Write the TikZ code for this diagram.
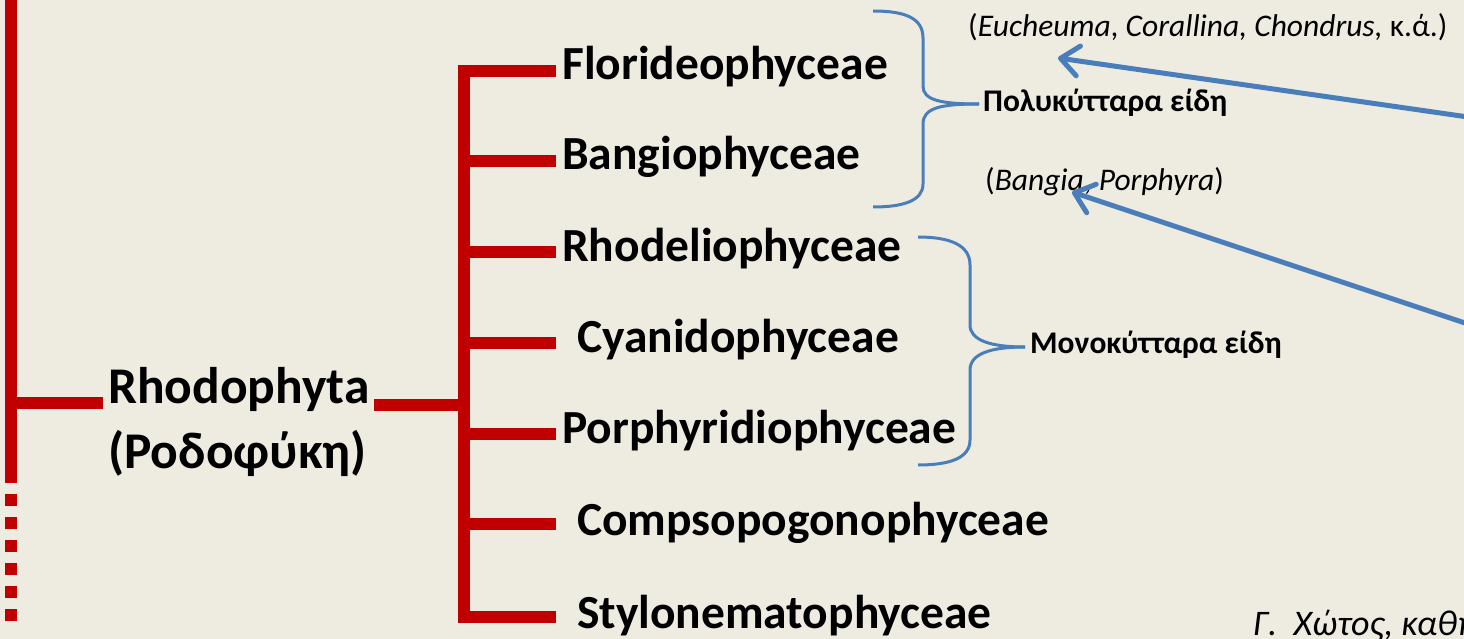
\documentclass[tikz,border=0pt]{standalone}
\usepackage{fontspec}
\setmainfont{Carlito}
\usetikzlibrary{arrows.meta}
\definecolor{bg}{HTML}{EEECE1}
\definecolor{tred}{HTML}{C00000}
\definecolor{tblue}{HTML}{4A7EBB}
\begin{document}
\begin{tikzpicture}[x=1pt,y=-1pt,
  redline/.style={draw=tred,line width=11.5pt},
  cls/.style={anchor=base west,inner sep=0pt,font=\fontsize{47.5}{52}\selectfont\bfseries},
  brace/.style={draw=tblue,line width=3pt},
  note/.style={anchor=base west,inner sep=0pt,font=\fontsize{31.5}{34}\selectfont},
  bnote/.style={note,font=\fontsize{31.5}{34}\selectfont\bfseries},
  pointer/.style={draw=tblue,line width=5pt,-{Straight Barb[length=18pt,width=30pt,round]}}
]
\fill[bg] (0,0) rectangle (1464,639);
\useasboundingbox (0,0) rectangle (1464,639);
\clip (0,0) rectangle (1464,639);

% left stem
\coordinate (top) at (11,-5);
\coordinate (stemend) at (11,480);
\coordinate (dashend) at (11,622);
\coordinate (rj) at (11,403);
\draw[redline] (top) -- (stemend);
\draw[redline,dash pattern=on 12pt off 11pt,dash phase=-14pt] (stemend) -- (dashend);

% Rhodophyta
\node[cls,align=left,font=\fontsize{51.5}{65}\selectfont\bfseries] (rho) at (108,468) {Rhodophyta\\(Ροδοφύκη)};
\coordinate (rhoL) at (103,403);
\coordinate (rhoR) at (374,405);
\draw[redline] (rj) -- (rhoL);

% trunk
\coordinate (trT) at (464,65);
\coordinate (trB) at (464,623);
\coordinate (trJ) at (464,405);
\draw[redline] (trT) -- (trB);
\draw[redline] (rhoR) -- (trJ);

% classes
\node[cls] (c1) at (562,80) {Florideophyceae};
\node[cls] (c2) at (562,170) {Bangiophyceae};
\node[cls] (c3) at (562,261) {Rhodeliophyceae};
\node[cls] (c4) at (577,352) {Cyanidophyceae};
\node[cls] (c5) at (562,443) {Porphyridiophyceae};
\node[cls] (c6) at (577,535) {Compsopogonophyceae};
\node[cls] (c7) at (577,628) {Stylonematophyceae};

\foreach \i/\y in {1/71,2/161,3/252,4/343,5/434,6/524,7/617}{
  \coordinate (b\i) at (464,\y);
  \coordinate (e\i) at (556,\y);
  \draw[redline] (b\i) -- (e\i);
}

% braces
\draw[brace] (873,11) .. controls (905,11) and (923,18) .. (923,38) -- (923,86)
  .. controls (923,100) and (940,104) .. (979,104);
\draw[brace] (979,104) .. controls (940,104) and (923,108) .. (923,124) -- (923,184)
  .. controls (923,200) and (905,207) .. (873,207);
\draw[brace] (918,237) .. controls (950,237) and (970,245) .. (970,265) -- (970,325)
  .. controls (970,340) and (990,347) .. (1025,347);
\draw[brace] (1025,347) .. controls (990,347) and (970,354) .. (970,370) -- (970,440)
  .. controls (970,458) and (950,465) .. (918,465);

\node[bnote] (poly) at (983,112) {Πολυκύτταρα είδη};
\node[bnote] (mono) at (1030,353) {Μονοκύτταρα είδη};
\node[note] (eu) at (968,37) {(\textit{Eucheuma}, \textit{Corallina, Chondrus,} κ.ά.)};
\node[note] (ba) at (985,191) {(\textit{Bangia}, \textit{Porphyra})};

% pointers
\coordinate (s1) at (1475,118);
\coordinate (t1) at (1058,58);
\coordinate (s2) at (1480,328);
\coordinate (t2) at (1072,192);
\draw[pointer] (s1) -- (t1);
\draw[pointer] (s2) -- (t2);

\node[note,font=\fontsize{36}{40}\selectfont\itshape] (auth) at (1253,635) {Γ.~~Χώτος, καθηγητής};
\end{tikzpicture}
\end{document}
